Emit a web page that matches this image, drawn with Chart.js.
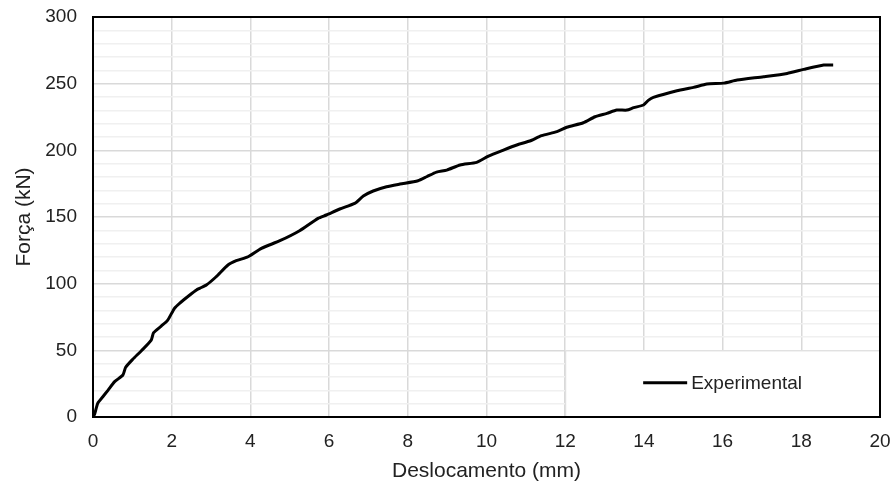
<!DOCTYPE html>
<html>
<head>
<meta charset="utf-8">
<script src="https://cdn.jsdelivr.net/npm/chart.js@4"></script>
<style>
  html, body { margin: 0; padding: 0; background: #fff; }
  #wrap { width: 894px; height: 485px; position: relative; }
</style>
</head>
<body>
<div id="wrap"><canvas id="chart"></canvas></div>
<script>
// displacement (mm) and force (kN)
const deslocamento = [0, 0.04, 0.12, 0.25, 0.38, 0.55, 0.76, 0.83, 1.01, 1.23,
  1.48, 1.54, 1.74, 1.90, 2.07, 2.2, 2.46, 2.63, 2.71, 2.88,
  3.13, 3.43, 3.64, 3.94, 4.28, 4.75, 5.25, 5.72, 5.93, 6.27,
  6.65, 6.87, 7.12, 7.46, 7.80, 8.26, 8.48, 8.73, 8.99, 9.33,
  9.75, 10.05, 10.43, 10.77, 11.1, 11.4, 11.79, 12.04, 12.46, 12.76,
  13.06, 13.31, 13.57, 13.74, 13.99, 14.12, 14.24, 14.84, 15.26, 15.6,
  16.03, 16.37, 17.04, 17.64, 18.06, 18.57, 18.81];
const forca = [0, 2, 10.3, 15.2, 20, 26.5, 31.5, 37.3, 43.3, 49.7,
  57.7, 63.2, 68.3, 72.7, 81.5, 85.3, 91.5, 95.3, 96.5, 99,
  105.2, 114, 117.2, 120.2, 126.5, 132.2, 139.7, 149, 151.5, 156,
  160.2, 165.7, 169.5, 172.7, 174.7, 177.2, 180.2, 183.7, 185.2, 189,
  191, 195.7, 200.2, 204, 207, 211, 214, 217.3, 220.7, 225.2,
  227.7, 230.2, 230.2, 232, 234, 237.7, 239.7, 244.7, 247.2, 249.7,
  250.4, 252.7, 255.2, 257.7, 260.7, 264, 264];

const seriesLabel = "Experimental";
const xTitle = "Deslocamento (mm)";
const yTitle = "Força (kN)";

const FONT = "'Liberation Sans', Arial, sans-serif";
const TEXT = "#222";

const points = deslocamento.map((x, i) => ({ x: x, y: forca[i] }));

// legend box inside the plot (bottom right) + black frame round the plot
const boxPlugin = {
  id: "boxPlugin",
  afterDatasetsDraw(chart) {
    const { ctx, scales } = chart;
    const x0 = scales.x.getPixelForValue(12);
    const x1 = scales.x.getPixelForValue(20);
    const y0 = scales.y.getPixelForValue(50);
    const y1 = scales.y.getPixelForValue(0);
    ctx.save();
    ctx.fillStyle = "#fff";
    ctx.fillRect(x0, y0, x1 - x0, y1 - y0);
    ctx.strokeStyle = "#d9d9d9";
    ctx.lineWidth = 1;
    ctx.strokeRect(x0 + 0.5, y0 + 0.5, x1 - x0 - 1, y1 - y0 - 1);

    const label = chart.data.datasets[0].label;
    ctx.font = "19px " + FONT;
    const tw = ctx.measureText(label).width;
    const lineLen = 44, gap = 4;
    const total = lineLen + gap + tw;
    const sx = (x0 + x1) / 2 - total / 2;
    const cy = (y0 + y1) / 2 - 1;
    ctx.strokeStyle = "#000";
    ctx.lineWidth = 3;
    ctx.beginPath();
    ctx.moveTo(sx, cy);
    ctx.lineTo(sx + lineLen, cy);
    ctx.stroke();
    ctx.fillStyle = TEXT;
    ctx.textBaseline = "middle";
    ctx.textAlign = "left";
    ctx.fillText(label, sx + lineLen + gap, cy + 1);
    ctx.restore();
  },
  afterDraw(chart) {
    const { ctx, chartArea: a } = chart;
    ctx.save();
    ctx.strokeStyle = "#000";
    ctx.lineWidth = 2;
    ctx.strokeRect(a.left, a.top, a.right - a.left, a.bottom - a.top);
    ctx.restore();
  }
};

new Chart(document.getElementById("chart"), {
  type: "scatter",
  data: {
    datasets: [{
      label: seriesLabel,
      data: points,
      showLine: true,
      borderColor: "#000",
      borderWidth: 3,
      pointRadius: 0,
      tension: 0.2,
      fill: false
    }]
  },
  options: {
    responsive: true,
    maintainAspectRatio: false,
    animation: false,
    layout: { padding: { top: 17, right: 14, bottom: 0, left: 0 } },
    plugins: {
      legend: { display: false },
      tooltip: { enabled: false }
    },
    scales: {
      x: {
        type: "linear",
        min: 0,
        max: 20,
        afterFit: (s) => {
          s.height = 68;
          s.paddingLeft = 0;
          s.paddingRight = 0;
        },
        border: { display: false },
        grid: { color: "#d9d9d9", lineWidth: 1.5, drawTicks: false },
        ticks: {
          stepSize: 2,
          padding: 13,
          color: TEXT,
          font: { family: FONT, size: 19 }
        },
        title: {
          display: true,
          text: xTitle,
          color: TEXT,
          font: { family: FONT, size: 21 },
          padding: { top: 0, bottom: 1 }
        }
      },
      y: {
        min: 0,
        max: 300,
        afterFit: (s) => {
          s.width = 93;
          s.paddingTop = 0;
          s.paddingBottom = 0;
        },
        border: { display: false },
        grid: {
          drawTicks: false,
          lineWidth: 1.5,
          color: (c) => (c.tick && c.tick.value % 50 === 0 ? "#d9d9d9" : "#f0f0f0")
        },
        ticks: {
          stepSize: 10,
          autoSkip: false,
          padding: 16,
          color: TEXT,
          font: { family: FONT, size: 19 },
          callback: (v) => (v % 50 === 0 ? v : "")
        },
        title: {
          display: true,
          text: yTitle,
          color: TEXT,
          font: { family: FONT, size: 21 },
          padding: { top: 12, bottom: 0 }
        }
      }
    }
  },
  plugins: [boxPlugin]
});
</script>
</body>
</html>
